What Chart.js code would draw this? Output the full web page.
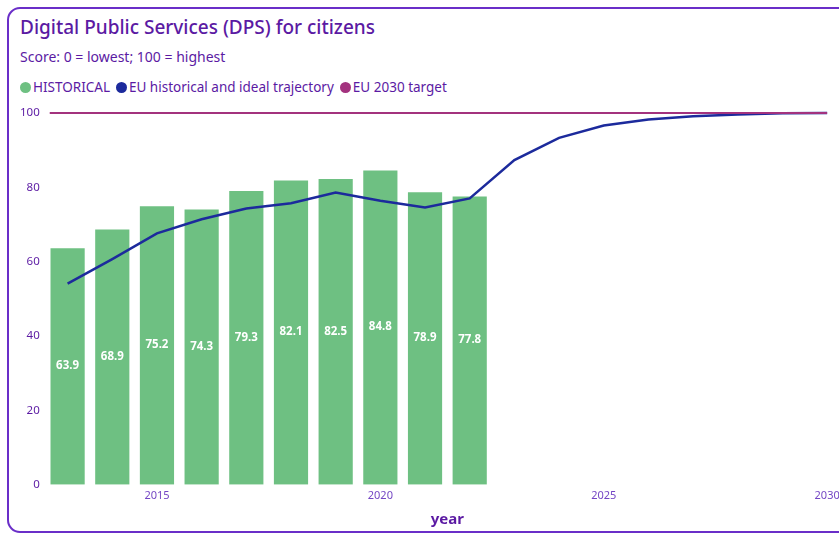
<!DOCTYPE html>
<html>
<head>
<meta charset="utf-8">
<script src="https://cdn.jsdelivr.net/npm/chart.js@4"></script>
<style>
  html, body { margin: 0; padding: 0; background: #fff; overflow: hidden; }
  body { font-family: 'Noto Sans', sans-serif; color: #5b1aa3; }
  #card {
    position: absolute; left: 7px; top: 7px; width: 880px; height: 526px;
    border: 2px solid #6a2ec8; border-radius: 13px; box-sizing: border-box;
  }
  .txt { position: absolute; left: 20px; line-height: 1; white-space: nowrap; }
  #title { top: 18px; font-size: 19px; font-weight: 500; }
  #subtitle { top: 50px; font-size: 14px; }
  #legend { top: 81px; font-size: 13.5px; }
  #legend .item { margin-right: 6px; }
  #legend i {
    display: inline-block; width: 11px; height: 11px; border-radius: 50%;
    margin-right: 2px; vertical-align: -1px;
  }
  #wrap { position: absolute; left: 10px; top: 96px; width: 840px; height: 437px; }
</style>
</head>
<body>
<div id="card"></div>
<div id="title" class="txt">Digital Public Services (DPS) for citizens</div>
<div id="subtitle" class="txt">Score: 0 = lowest; 100 = highest</div>
<div id="legend" class="txt"></div>
<div id="wrap"><canvas id="chart"></canvas></div>
<script>
// data
var barYears = [2013, 2014, 2015, 2016, 2017, 2018, 2019, 2020, 2021, 2022];
var historical = [63.9, 68.9, 75.2, 74.3, 79.3, 82.1, 82.5, 84.8, 78.9, 77.8];
var trajYears = [2013, 2014, 2015, 2016, 2017, 2018, 2019, 2020, 2021, 2022, 2023, 2024, 2025, 2026, 2027, 2028, 2029, 2030];
var trajectory = [54.1, 60.7, 67.6, 71.4, 74.3, 75.7, 78.6, 76.4, 74.6, 77.0, 87.3, 93.3, 96.6, 98.2, 99.1, 99.6, 99.9, 100];
var xMin = 2012.6;
var xMax = 2030.4;
var targetYears = [xMin, 2030];
var target = [100, 100];
var xTicks = [2015, 2020, 2025, 2030];

var purple = "#5b1aa3";
var font = "'Noto Sans', sans-serif";

function pairs(xs, ys) {
  return xs.map(function (x, i) { return { x: x, y: ys[i] }; });
}

// values written in the middle of each bar
var barLabels = {
  id: "barLabels",
  afterDatasetsDraw: function (chart) {
    var ctx = chart.ctx;
    var meta = chart.getDatasetMeta(0);
    ctx.save();
    ctx.fillStyle = "#ffffff";
    ctx.font = "bold 11.5px " + font;
    ctx.textAlign = "center";
    ctx.textBaseline = "middle";
    meta.data.forEach(function (bar, i) {
      ctx.fillText(historical[i].toFixed(1), bar.x, (bar.y + bar.base) / 2);
    });
    ctx.restore();
  }
};

var chart = new Chart(document.getElementById("chart"), {
  type: "bar",
  data: {
    datasets: [
      {
        label: "HISTORICAL",
        data: pairs(barYears, historical),
        backgroundColor: "#6ec082",
        borderColor: "rgba(255,255,255,0.45)",
        borderWidth: 1,
        barPercentage: 0.9,
        categoryPercentage: 0.9,
        order: 3
      },
      {
        type: "line",
        label: "EU historical and ideal trajectory",
        data: pairs(trajYears, trajectory),
        borderColor: "#1c2a9c",
        backgroundColor: "#1c2a9c",
        borderWidth: 2.5,
        pointRadius: 0,
        tension: 0,
        clip: false,
        order: 2
      },
      {
        type: "line",
        label: "EU 2030 target",
        data: pairs(targetYears, target),
        borderColor: "#a3327e",
        backgroundColor: "#a3327e",
        borderWidth: 2,
        pointRadius: 0,
        clip: false,
        order: 1
      }
    ]
  },
  options: {
    responsive: true,
    maintainAspectRatio: false,
    animation: false,
    layout: { padding: { top: 14, left: 0, right: 5, bottom: 4 } },
    plugins: {
      legend: { display: false },
      tooltip: { enabled: false }
    },
    scales: {
      x: {
        type: "linear",
        min: xMin,
        max: xMax,
        offset: false,
        grid: { display: false, drawTicks: false },
        border: { display: false },
        afterBuildTicks: function (axis) {
          axis.ticks = xTicks.map(function (v) { return { value: v }; });
        },
        ticks: {
          color: "#7446c4",
          font: { family: font, size: 11 },
          maxRotation: 0,
          padding: 4,
          callback: function (v) { return String(v); }
        },
        title: {
          display: true,
          text: "year",
          color: purple,
          font: { family: font, size: 15, weight: "bold" },
          padding: { top: 5, bottom: 0 }
        }
      },
      y: {
        min: 0,
        max: 100,
        grid: { display: false, drawTicks: false },
        border: { display: false },
        ticks: {
          stepSize: 20,
          color: purple,
          font: { family: font, size: 11.5 },
          padding: 10
        }
      }
    }
  },
  plugins: [barLabels]
});

// legend built from the datasets
var legendBox = document.getElementById("legend");
chart.data.datasets.forEach(function (ds) {
  var item = document.createElement("span");
  item.className = "item";
  item.innerHTML = '<i style="background:' + ds.backgroundColor + '"></i>' + ds.label;
  legendBox.appendChild(item);
});
</script>
</body>
</html>
